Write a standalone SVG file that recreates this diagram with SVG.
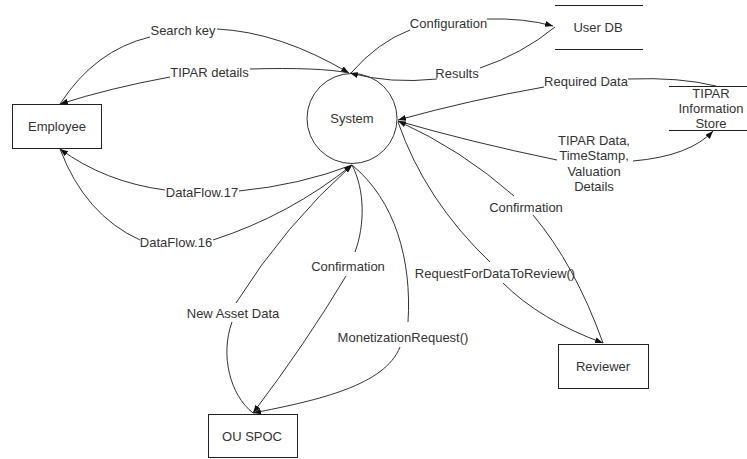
<svg xmlns="http://www.w3.org/2000/svg" width="747" height="459" viewBox="0 0 747 459">
  <style>
    .box { fill: #fff; stroke: #222; stroke-width: 1; }
    .proc { fill: #fff; stroke: #333; stroke-width: 1; }
    .store { stroke: #222; stroke-width: 1; fill: none; }
    .flow { fill: none; stroke: #333; stroke-width: 1; }
    .arrow { marker-end: url(#head); }
    .arrow-start { marker-start: url(#head); }
    text { font-family: "Liberation Sans", Arial, sans-serif; font-size: 13px; fill: #333; text-anchor: middle; }
  </style>
  <defs>
    <marker id="head" viewBox="0 0 8 6" refX="8" refY="3" markerWidth="8" markerHeight="6" markerUnits="userSpaceOnUse" orient="auto-start-reverse">
      <path d="M0,0 L8,3 L0,6 Z" fill="#111"/>
    </marker>
  </defs>
  <rect width="747" height="459" fill="#fff"/>

  <!-- process and external entities -->
  <g id="system">
    <circle cx="352" cy="118.5" r="45" class="proc"/>
    <text x="352" y="123">System</text>
  </g>
  <g id="employee">
    <rect x="12.5" y="104.5" width="89" height="44" class="box"/>
    <text x="57" y="130.5">Employee</text>
  </g>
  <g id="reviewer">
    <rect x="558.5" y="344.5" width="90" height="44" class="box"/>
    <text x="603" y="370.5">Reviewer</text>
  </g>
  <g id="ou-spoc">
    <rect x="208.5" y="414.5" width="89" height="43" class="box"/>
    <text x="252" y="440.5">OU SPOC</text>
  </g>

  <!-- data stores -->
  <g id="user-db">
    <line x1="555" y1="5.5" x2="643" y2="5.5" class="store"/>
    <line x1="555" y1="49.5" x2="643" y2="49.5" class="store"/>
    <text x="598" y="31.5">User DB</text>
  </g>
  <g id="tipar-store">
    <line x1="669" y1="86.5" x2="747" y2="86.5" class="store"/>
    <line x1="669" y1="130.5" x2="747" y2="130.5" class="store"/>
    <text x="711" y="97.5">TIPAR</text>
    <text x="711" y="112.5">Information</text>
    <text x="711" y="127.5">Store</text>
  </g>

  <!-- data flows -->
  <g id="connectors">
    <g id="flow-search-key">
      <path class="flow" d="M60,104 Q95,50 150,37"/>
      <path class="flow arrow" d="M217,29 Q280,32 349,73"/>
      <text x="183" y="34.5">Search key</text>
    </g>
    <g id="flow-tipar-details">
      <path class="flow arrow-start" d="M60,104 Q110,88 170,77"/>
      <path class="flow" d="M250,69 Q320,67 349,73"/>
      <text x="209.5" y="76.5">TIPAR details</text>
    </g>
    <g id="flow-configuration">
      <path class="flow" d="M351,73 Q378,42 410,30"/>
      <path class="flow arrow" d="M487,19 Q525,18 553,26"/>
      <text x="448.5" y="27.5">Configuration</text>
    </g>
    <g id="flow-results">
      <path class="flow" d="M555,27 Q522,54 480,68"/>
      <path class="flow arrow" d="M437,79 Q390,84 350,73"/>
      <text x="457" y="77.5">Results</text>
    </g>
    <g id="flow-required-data">
      <path class="flow" d="M716,86 Q680,77 628,79"/>
      <path class="flow arrow" d="M544,87 Q470,100 398,120"/>
      <text x="586" y="85.5">Required Data</text>
    </g>
    <g id="flow-tipar-data">
      <path class="flow" d="M398,121 Q470,142 557,160"/>
      <path class="flow arrow" d="M633,161 Q690,156 713,131"/>
      <text x="594" y="144.5">TIPAR Data,</text>
      <text x="594" y="160">TimeStamp,</text>
      <text x="594" y="175.5">Valuation</text>
      <text x="594" y="191">Details</text>
    </g>
    <g id="flow-confirmation-reviewer">
      <path class="flow" d="M603,343 Q575,265 533,215"/>
      <path class="flow arrow" d="M514,196 Q462,150 398,121"/>
      <text x="526" y="211.5">Confirmation</text>
    </g>
    <g id="flow-request-review">
      <path class="flow" d="M398,122 Q425,200 490,262"/>
      <path class="flow arrow" d="M503,283 Q540,320 603,343"/>
      <text x="495" y="277.5">RequestForDataToReview()</text>
    </g>
    <g id="flow-dataflow-17">
      <path class="flow arrow-start" d="M60,149 Q105,182 165,190"/>
      <path class="flow" d="M239,191 Q300,185 352,165"/>
      <text x="202" y="196.5">DataFlow.17</text>
    </g>
    <g id="flow-dataflow-16">
      <path class="flow" d="M60,149 Q85,215 140,240"/>
      <path class="flow arrow" d="M213,240 Q290,215 352,165"/>
      <text x="176" y="246.5">DataFlow.16</text>
    </g>
    <g id="flow-new-asset-data">
      <path class="flow" d="M253,413 C230,395 220,355 232,322"/>
      <path class="flow arrow" d="M236,303 Q285,225 352,165"/>
      <text x="233" y="317.5">New Asset Data</text>
    </g>
    <g id="flow-confirmation-spoc">
      <path class="flow" d="M352,165 C365,190 365,225 355,252"/>
      <path class="flow arrow" d="M346,276 Q306,343 253,413"/>
      <text x="348" y="270.5">Confirmation</text>
    </g>
    <g id="flow-monetization-request">
      <path class="flow" d="M352,165 C395,200 412,260 408,322"/>
      <path class="flow arrow" d="M400,347 C385,385 320,400 253,413"/>
      <text x="403" y="341.5">MonetizationRequest()</text>
    </g>
  </g>
</svg>
